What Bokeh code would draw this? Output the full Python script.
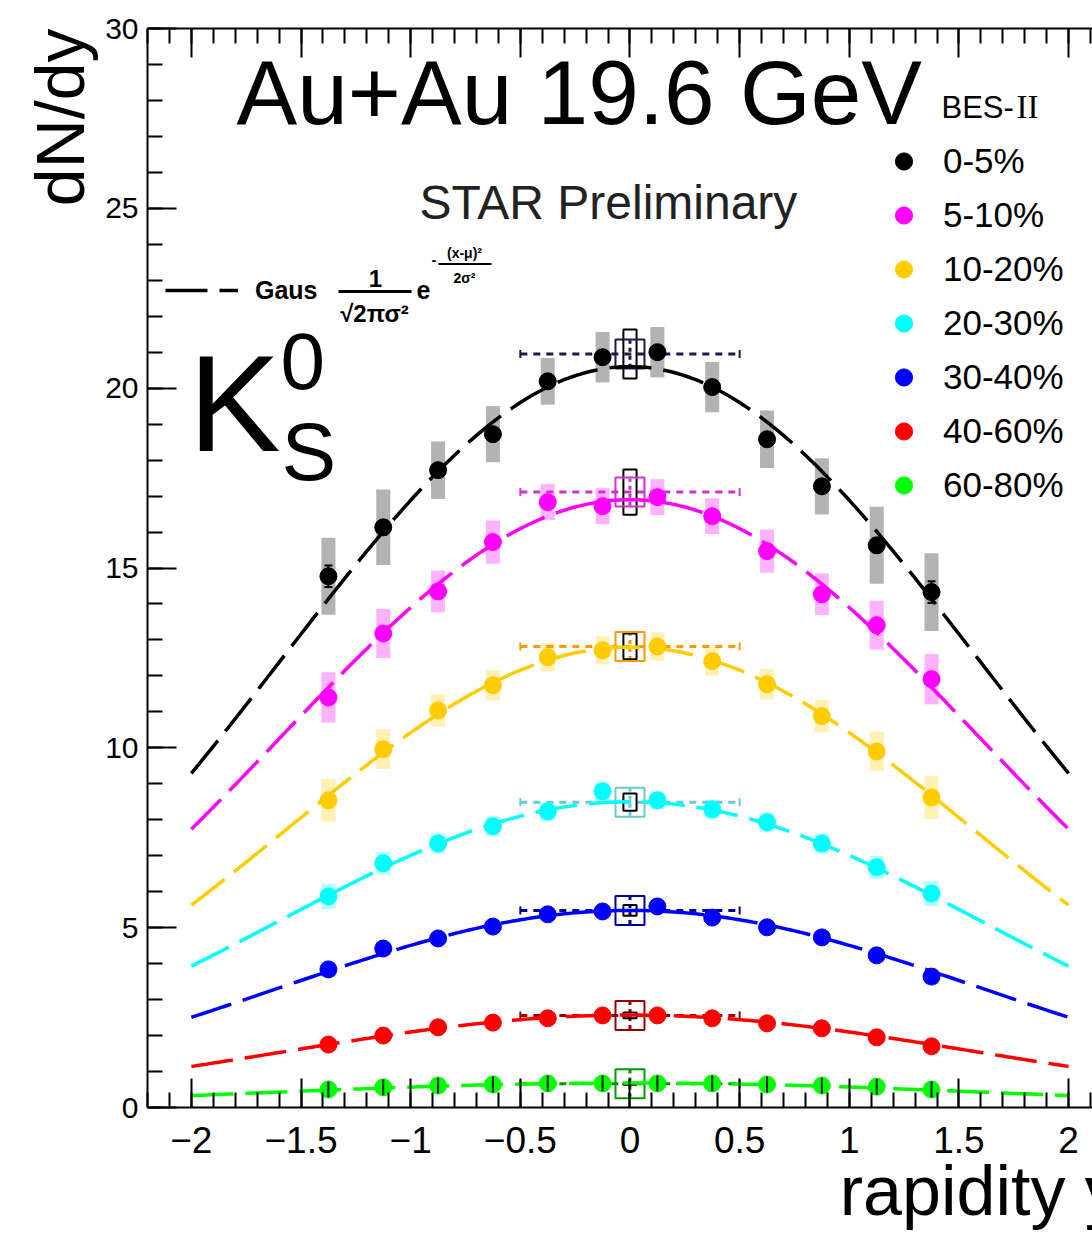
import numpy as np
from bokeh.plotting import figure
from bokeh.models import (LinearAxis, FixedTicker, CustomJSTickFormatter, Label, Title,
                          Legend, LegendItem, BoxAnnotation)
from bokeh.embed import file_html
from bokeh.resources import INLINE

# ---------------- data ----------------
rapidity = [-1.375, -1.125, -0.875, -0.625, -0.375, -0.125, 0.125, 0.375, 0.625, 0.875, 1.125, 1.375]
centrality = ["0-5%", "5-10%", "10-20%", "20-30%", "30-40%", "40-60%", "60-80%"]

dndy_0_5   = [14.77, 16.13, 17.72, 18.72, 20.19, 20.86, 21.00, 20.03, 18.58, 17.27, 15.63, 14.33]
dndy_5_10  = [11.40, 13.18, 14.35, 15.72, 16.83, 16.72, 16.97, 16.44, 15.47, 14.27, 13.41, 11.91]
dndy_10_20 = [8.54, 9.96, 11.04, 11.74, 12.52, 12.71, 12.82, 12.41, 11.77, 10.88, 9.90, 8.62]
dndy_20_30 = [5.87, 6.79, 7.34, 7.82, 8.23, 8.79, 8.54, 8.29, 7.93, 7.34, 6.68, 5.95]
dndy_30_40 = [3.84, 4.42, 4.70, 5.03, 5.37, 5.45, 5.59, 5.28, 5.01, 4.73, 4.23, 3.64]
dndy_40_60 = [1.75, 2.00, 2.23, 2.36, 2.48, 2.56, 2.56, 2.48, 2.34, 2.20, 1.95, 1.70]
dndy_60_80 = [0.50, 0.56, 0.61, 0.64, 0.67, 0.67, 0.67, 0.67, 0.64, 0.61, 0.58, 0.50]

sys_0_5   = [1.07, 1.05, 0.80, 0.78, 0.65, 0.70, 0.70, 0.70, 0.80, 0.78, 1.07, 1.08]
sys_5_10  = [0.70, 0.68, 0.58, 0.60, 0.50, 0.50, 0.50, 0.50, 0.60, 0.58, 0.68, 0.70]
sys_10_20 = [0.60, 0.55, 0.45, 0.42, 0.40, 0.39, 0.39, 0.40, 0.42, 0.45, 0.55, 0.60]
sys_20_30 = [0.35, 0.32, 0.28, 0.27, 0.26, 0.25, 0.25, 0.26, 0.27, 0.28, 0.32, 0.35]
sys_30_40 = [0.20, 0.18, 0.16, 0.15, 0.15, 0.15, 0.15, 0.15, 0.15, 0.16, 0.18, 0.20]
sys_40_60 = [0.10, 0.09, 0.08, 0.08, 0.08, 0.08, 0.08, 0.08, 0.08, 0.08, 0.09, 0.10]
sys_60_80 = [0.05, 0.05, 0.04, 0.04, 0.04, 0.04, 0.04, 0.04, 0.04, 0.04, 0.05, 0.05]

stat_0_5   = [0.30, 0.20, 0.15, 0.15, 0.12, 0.12, 0.12, 0.12, 0.15, 0.15, 0.20, 0.30]
stat_5_10  = [0.15, 0.12, 0.10, 0.10, 0.09, 0.09, 0.09, 0.09, 0.10, 0.10, 0.12, 0.15]
stat_10_20 = [0.12, 0.10, 0.08, 0.08, 0.07, 0.07, 0.07, 0.07, 0.08, 0.08, 0.10, 0.12]
stat_20_30 = [0.10, 0.08, 0.07, 0.06, 0.06, 0.06, 0.06, 0.06, 0.06, 0.07, 0.08, 0.10]
stat_30_40 = [0.08, 0.07, 0.06, 0.05, 0.05, 0.05, 0.05, 0.05, 0.05, 0.06, 0.07, 0.08]
stat_40_60 = [0.06, 0.05, 0.05, 0.04, 0.04, 0.04, 0.04, 0.04, 0.04, 0.05, 0.05, 0.06]
stat_60_80 = [0.22, 0.22, 0.22, 0.22, 0.22, 0.22, 0.22, 0.22, 0.22, 0.22, 0.22, 0.22]

dndy = [dndy_0_5, dndy_5_10, dndy_10_20, dndy_20_30, dndy_30_40, dndy_40_60, dndy_60_80]
sys_err = [sys_0_5, sys_5_10, sys_10_20, sys_20_30, sys_30_40, sys_40_60, sys_60_80]
stat_err = [stat_0_5, stat_5_10, stat_10_20, stat_20_30, stat_30_40, stat_40_60, stat_60_80]

# Gaussian fit parameters (mu = 0)
fit_amp   = [20.60, 16.90, 12.80, 8.50, 5.48, 2.57, 0.68]
fit_sigma = [1.585, 1.600, 1.560, 1.610, 1.600, 1.570, 1.670]
fit_xmin, fit_xmax = -2.0, 2.0

# mid-rapidity reference points (|y|<0.5)
midy_x      = [0.0, 0.0, 0.0, 0.0, 0.0, 0.0, 0.0]
midy_dndy   = [20.95, 17.11, 12.82, 8.49, 5.48, 2.56, 0.66]
midy_sys    = [0.68, 0.63, 0.36, 0.24, 0.15, 0.08, 0.03]
midy_stat   = [0.38, 0.38, 0.38, 0.38, 0.38, 0.38, 0.38]
midy_xhalf  = [0.5, 0.5, 0.5, 0.5, 0.5, 0.5, 0.5]

x_major = [-2, -1.5, -1, -0.5, 0, 0.5, 1, 1.5, 2]
y_major = [0, 5, 10, 15, 20, 25, 30]

# ---------------- style ----------------
marker_colors = ["#000000", "#ff00ff", "#ffcc00", "#00ffff", "#0000ff", "#ff0000", "#00ff00"]
sys_colors    = ["#b3b3b3", "#ffb3ff", "#fff0b3", "#b3ffff", "#b3b3ff", "#ffb3b3", "#b3ffb3"]
ref_colors    = ["#1a1a4d", "#cc33cc", "#ff9900", "#66cccc", "#000099", "#990000", "#009900"]
FONT = "Liberation Sans"

FIG_W, FIG_H = 1092, 1234
B_LEFT, B_TOP, B_BOTTOM = 147, 28, 127
X_START, X_END = -2.2, 2.109
Y_START, Y_END = 0, 30
FRAME_L = B_LEFT
FRAME_T = B_TOP
FRAME_W = FIG_W - B_LEFT
FRAME_H = FIG_H - B_TOP - B_BOTTOM
FRAME_B = FRAME_T + FRAME_H
SX = FRAME_W / (X_END - X_START)
SY = FRAME_H / (Y_END - Y_START)
MID = 0.36  # middle of text box above baseline, in em


def px2x(px):
    return X_START + (px - FRAME_L) / SX


def py2y(py):
    return Y_START + (FRAME_B - py) / SY


p = figure(width=FIG_W, height=FIG_H, x_range=(X_START, X_END), y_range=(Y_START, Y_END),
           output_backend="svg", toolbar_location=None,
           min_border_left=B_LEFT, min_border_right=0, min_border_top=B_TOP,
           min_border_bottom=B_BOTTOM)
p.outline_line_color = None
p.xgrid.visible = False
p.ygrid.visible = False

x_ticker = FixedTicker(ticks=x_major, minor_ticks=[round(-2.2 + 0.1 * i, 2) for i in range(45)])
y_ticker = FixedTicker(ticks=y_major, minor_ticks=list(range(0, 31)))


def style_axis(ax, label_size):
    ax.axis_line_width = 2
    ax.major_tick_line_width = 2
    ax.minor_tick_line_width = 2
    ax.major_tick_in = 29
    ax.major_tick_out = 0
    ax.minor_tick_in = 15
    ax.minor_tick_out = 0
    ax.major_label_text_font = FONT
    ax.major_label_text_font_size = label_size
    ax.major_label_text_color = "black"


xa = p.xaxis[0]
xa.ticker = x_ticker
xa.formatter = CustomJSTickFormatter(code="return (tick < 0 ? '\u2212' : '') + Math.abs(tick).toString();")
style_axis(xa, "37px")
xa.major_label_standoff = 19
# x-axis title, pushed to the right end of the axis (ROOT style) with leading no-break spaces
xa.axis_label = "\u00a0" * 37 + "rapidity y"
xa.axis_label_text_font = FONT
xa.axis_label_text_font_size = "70px"
xa.axis_label_text_font_style = "normal"
xa.axis_label_text_color = "black"
xa.axis_label_standoff = -4

ya = p.yaxis[0]
ya.ticker = y_ticker
style_axis(ya, "30px")
ya.major_label_standoff = 9

top = LinearAxis(ticker=x_ticker)
style_axis(top, "1px")
top.major_label_text_color = None
top.major_label_standoff = 0
p.add_layout(top, "above")

ytitle = Title(text="dN/dy", align="right", text_font=FONT, text_font_size="68px",
               text_font_style="normal", text_color="black", standoff=10)
p.add_layout(ytitle, "left")

# ---------------- systematic boxes ----------------
box_w = 0.064
for k in range(7):
    p.quad(left=[x - box_w / 2 for x in rapidity], right=[x + box_w / 2 for x in rapidity],
           bottom=[v - s for v, s in zip(dndy[k], sys_err[k])],
           top=[v + s for v, s in zip(dndy[k], sys_err[k])],
           fill_color=sys_colors[k], line_color=None)

# ---------------- mid-rapidity reference ----------------
for k in range(7):
    p.segment(x0=[midy_x[k] - midy_xhalf[k]], x1=[midy_x[k] + midy_xhalf[k]],
              y0=[midy_dndy[k]], y1=[midy_dndy[k]],
              line_color=ref_colors[k], line_width=3, line_dash="7 6")
    p.scatter(x=[midy_x[k] - midy_xhalf[k], midy_x[k] + midy_xhalf[k]], y=[midy_dndy[k]] * 2,
              marker="dash", angle=np.pi / 2, size=8, line_color=ref_colors[k], line_width=2)
    p.segment(x0=[midy_x[k]], x1=[midy_x[k]],
              y0=[midy_dndy[k] - midy_stat[k]], y1=[midy_dndy[k] + midy_stat[k]],
              line_color=ref_colors[k], line_width=3, line_dash="4 4")
    p.rect(x=[midy_x[k]], y=[midy_dndy[k]], width=0.06, height=2 * midy_sys[k],
           fill_color=None, line_color="black", line_width=2)
    p.scatter(x=[midy_x[k]], y=[midy_dndy[k]], marker="square", size=29,
              fill_color=None, line_color=ref_colors[k], line_width=2)

# ---------------- Gaussian fits ----------------
xf = np.linspace(fit_xmin, fit_xmax, 241)
fit_renderers = []
for k in range(7):
    yf = fit_amp[k] * np.exp(-xf ** 2 / (2 * fit_sigma[k] ** 2))
    r = p.line(xf, yf, line_color=marker_colors[k], line_width=3.5, line_dash="42 12")
    fit_renderers.append(r)

# ---------------- stat errors (under markers) ----------------
for k in range(6):
    lo = [v - s for v, s in zip(dndy[k], stat_err[k])]
    hi = [v + s for v, s in zip(dndy[k], stat_err[k])]
    p.segment(x0=rapidity, x1=rapidity, y0=lo, y1=hi, line_color="black", line_width=2)
    p.scatter(x=rapidity + rapidity, y=lo + hi, marker="dash", size=8,
              line_color="black", line_width=2)

# ---------------- markers ----------------
marker_renderers = []
for k in range(7):
    r = p.scatter(x=rapidity, y=dndy[k], marker="circle", size=17,
                  fill_color=marker_colors[k], line_color=marker_colors[k])
    marker_renderers.append(r)

# green stat errors drawn over the markers
p.segment(x0=rapidity, x1=rapidity,
          y0=[v - s for v, s in zip(dndy[6], stat_err[6])],
          y1=[v + s for v, s in zip(dndy[6], stat_err[6])],
          line_color="#111111", line_width=2)

# ---------------- legends ----------------
leg = Legend(items=[LegendItem(label=centrality[k], renderers=[marker_renderers[k]]) for k in range(7)],
             location=(735, 595), orientation="vertical",
             glyph_width=43, glyph_height=54, label_height=54, spacing=0, padding=0, margin=0,
             label_standoff=18, label_text_font=FONT, label_text_font_size="35px",
             label_text_color="black",
             border_line_color=None, background_fill_alpha=0)
p.add_layout(leg)

gleg = Legend(items=[LegendItem(label="Gaus", renderers=[fit_renderers[0]])],
              location=(18, 802), glyph_width=73, glyph_height=30, label_height=30,
              padding=0, margin=0, spacing=0, label_standoff=17,
              label_text_font=FONT, label_text_font_size="25px", label_text_font_style="bold",
              label_text_color="black",
              border_line_color=None, background_fill_alpha=0)
p.add_layout(gleg)


# ---------------- texts ----------------
def lab(text, px, py_base, size, align="left", style="normal",
        font=FONT, color="black"):
    p.add_layout(Label(x=px2x(px), y=py2y(py_base - MID * size), text=text, text_font=font,
                       text_font_size=f"{size}px", text_align=align, text_baseline="middle",
                       text_font_style=style, text_color=color))


lab("Au+Au 19.6 GeV", 236, 125, 91)
lab("STAR Preliminary", 419, 219, 48, color="#222222")
lab("BES-", 941, 118, 31)
lab("II", 1016, 118, 33, font="Liberation Serif")
lab("K", 188, 452, 138)
lab("0", 280, 390, 80)
lab("S", 281, 481, 82)

lab("1", 375, 287, 24, align="center", style="bold")
lab("\u221a2\u03c0\u03c3\u00b2", 374, 322, 24, align="center", style="bold")
lab("e", 416, 298, 25, style="bold")
lab("-", 431, 265, 15, style="bold")
lab("(x-\u03bc)\u00b2", 464, 258, 14, align="center", style="bold")
lab("2\u03c3\u00b2", 464, 283, 14, align="center", style="bold")
p.add_layout(BoxAnnotation(left=px2x(338), right=px2x(411), top=py2y(289.5), bottom=py2y(292.5),
                           fill_color="black", fill_alpha=1, line_color=None))
p.add_layout(BoxAnnotation(left=px2x(438), right=px2x(491), top=py2y(262.5), bottom=py2y(264.5),
                           fill_color="black", fill_alpha=1, line_color=None))

with open("out.html", "w", encoding="utf-8") as f:
    f.write(file_html(p, INLINE))
